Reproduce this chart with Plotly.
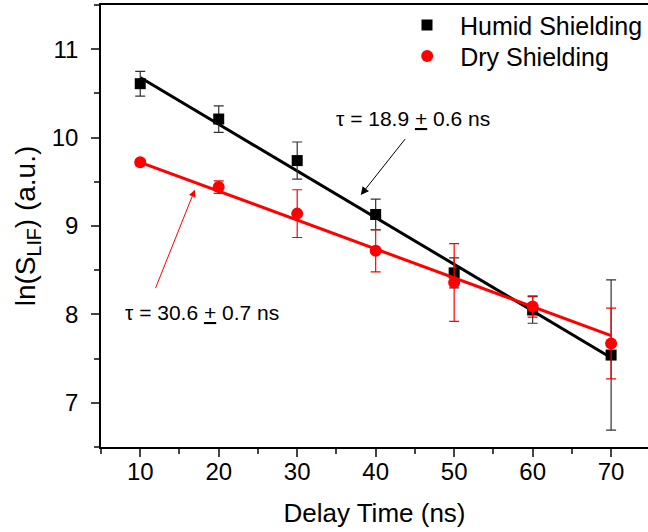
import plotly.graph_objects as go

delay = [10, 20, 30, 40, 50, 60, 70]
humid = [10.61, 10.21, 9.74, 9.13, 8.47, 8.05, 7.54]
humid_err = [0.14, 0.15, 0.21, 0.175, 0.17, 0.15, 0.85]
dry = [9.72, 9.44, 9.14, 8.72, 8.36, 8.09, 7.67]
dry_err = [0.03, 0.07, 0.27, 0.24, 0.44, 0.12, 0.40]

fit_x = [10, 70]
humid_fit = [10.68, 7.51]
dry_fit = [9.72, 7.76]

humid_label = "τ = 18.9 <u>+</u> 0.6 ns"
dry_label = "τ = 30.6 <u>+</u> 0.7 ns"

FONT = "Liberation Sans, Arial, sans-serif"

fig = go.Figure()
fig.add_trace(go.Scatter(x=fit_x, y=humid_fit, mode="lines",
                         line=dict(color="black", width=3), showlegend=False))
fig.add_trace(go.Scatter(x=delay, y=humid, mode="markers", name="Humid Shielding",
                         legend="legend",
                         marker=dict(symbol="square", size=11, color="black"),
                         error_y=dict(type="data", array=humid_err, visible=True,
                                      color="#333333", thickness=1.2, width=5)))
fig.add_trace(go.Scatter(x=fit_x, y=dry_fit, mode="lines",
                         line=dict(color="#ff0000", width=3), showlegend=False))
fig.add_trace(go.Scatter(x=delay, y=dry, mode="markers", name="Dry Shielding",
                         legend="legend2",
                         marker=dict(symbol="circle", size=12, color="#ff0000"),
                         error_y=dict(type="data", array=dry_err, visible=True,
                                      color="#ff0000", thickness=1.2, width=5)))

# text annotations
fig.add_annotation(x=44.8, y=10.22, text=humid_label, showarrow=False,
                   font=dict(size=21, color="black", family=FONT))
fig.add_annotation(x=17.85, y=8.02, text=dry_label, showarrow=False,
                   font=dict(size=21, color="black", family=FONT))
# arrows
fig.add_annotation(x=38.1, y=9.35, ax=43.9, ay=10.0, axref="x", ayref="y",
                   text="", showarrow=True, arrowhead=2, arrowsize=1.6,
                   arrowwidth=1, arrowcolor="black")
fig.add_annotation(x=16.96, y=9.41, ax=11.87, ay=8.28, axref="x", ayref="y",
                   text="", showarrow=True, arrowhead=2, arrowsize=1.4,
                   arrowwidth=1, arrowcolor="#ff0000")

legend_common = dict(xanchor="left", yanchor="top", itemwidth=56,
                     font=dict(size=25, family=FONT), bgcolor="rgba(0,0,0,0)")

fig.update_layout(
    width=648, height=532,
    margin=dict(l=101, r=0, t=5, b=85),
    paper_bgcolor="white", plot_bgcolor="white",
    font=dict(family=FONT, color="black"),
    showlegend=True,
    legend=dict(x=0.536, y=1.006, **legend_common),
    legend2=dict(x=0.536, y=0.936, **legend_common),
    xaxis=dict(range=[5, 74.7], tick0=10, dtick=10, ticks="outside", ticklen=8,
               tickwidth=1.5, showline=True, linewidth=1.5, linecolor="black",
               mirror=True, showgrid=False, zeroline=False,
               tickfont=dict(size=24), ticklabelstandoff=-6,
               minor=dict(dtick=5, tick0=5, ticks="outside", ticklen=5, tickwidth=1.5),
               title=dict(text="Delay Time (ns)", font=dict(size=26), standoff=20)),
    yaxis=dict(range=[6.5, 11.5], tick0=7, dtick=1, ticks="outside", ticklen=8,
               tickwidth=1.5, showline=True, linewidth=1.5, linecolor="black",
               showgrid=False, zeroline=False, tickfont=dict(size=24),
               ticklabelstandoff=8,
               minor=dict(dtick=0.5, ticks="outside", ticklen=5, tickwidth=1.5),
               title=dict(text="ln(S<sub>LIF</sub>) (a.u.)", font=dict(size=28), standoff=8)),
)

fig.write_html("out.html")
